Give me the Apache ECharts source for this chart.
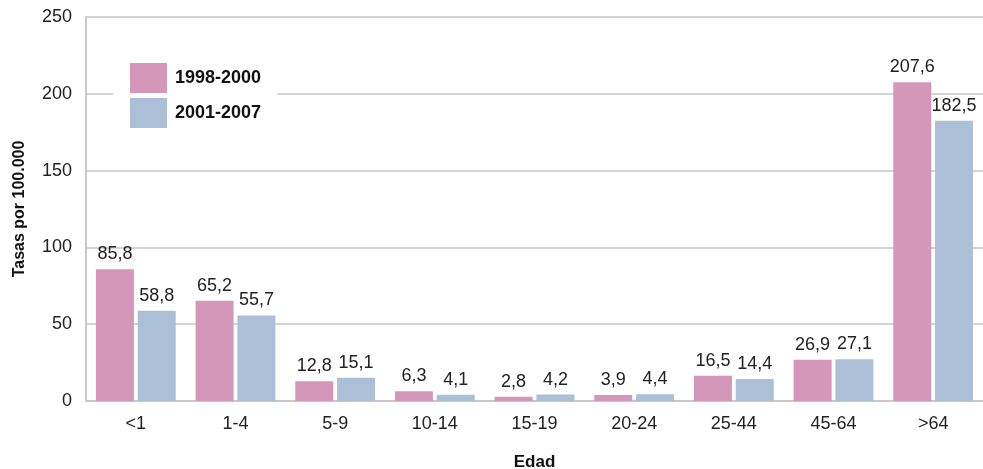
<!DOCTYPE html>
<html>
<head>
<meta charset="utf-8">
<title>Tasas por edad</title>
<script src="https://cdn.jsdelivr.net/npm/echarts@6/dist/echarts.min.js"></script>
<style>
  html, body { margin: 0; padding: 0; background: #fff; }
  #main { width: 983px; height: 469px; }
</style>
</head>
<body>
<div id="main"></div>
<script>
var ageGroups = ['<1', '1-4', '5-9', '10-14', '15-19', '20-24', '25-44', '45-64', '>64'];
var rates9800 = [85.8, 65.2, 12.8, 6.3, 2.8, 3.9, 16.5, 26.9, 207.6];
var rates0107 = [58.8, 55.7, 15.1, 4.1, 4.2, 4.4, 14.4, 27.1, 182.5];
var seriesNames = ['1998-2000', '2001-2007'];

var font = 'Liberation Sans, Arial, Helvetica, sans-serif';
var chart = echarts.init(document.getElementById('main'));

// etiqueta con coma decimal
function fmt(p) {
  return p.value.toFixed(1).replace('.', ',');
}

chart.setOption({
  animation: false,
  textStyle: { fontFamily: font },
  grid: { left: 86, right: 0, top: 17, bottom: 68, outerBoundsMode: 'none', containLabel: false },
  legend: {
    orient: 'vertical',
    left: 113, top: 56,
    padding: [7, 16, 7, 17],
    backgroundColor: '#fff',
    itemWidth: 37, itemHeight: 30, itemGap: 5,
    icon: 'rect',
    textStyle: { fontSize: 18, fontWeight: 'bold', color: '#111', fontFamily: font, padding: [0, 0, 0, 3] },
    data: seriesNames
  },
  xAxis: {
    type: 'category',
    data: ageGroups,
    name: 'Edad',
    nameLocation: 'middle',
    nameGap: 53,
    nameTextStyle: { fontSize: 17, fontWeight: 'bold', color: '#111' },
    axisLine: { lineStyle: { color: '#c8c8c8', width: 2 } },
    axisTick: { show: false },
    axisLabel: { fontSize: 18, color: '#222', margin: 14 }
  },
  yAxis: {
    type: 'value',
    min: 0, max: 250, interval: 50,
    name: 'Tasas por 100.000',
    nameLocation: 'middle',
    nameGap: 58,
    nameTextStyle: { fontSize: 16, fontWeight: 'bold', color: '#111' },
    axisLine: { show: true, lineStyle: { color: '#c8c8c8', width: 2 } },
    axisTick: { show: false },
    axisLabel: { fontSize: 18, color: '#222', margin: 14 },
    splitLine: { lineStyle: { color: '#d4d4d4', width: 2 } }
  },
  series: [
    {
      name: seriesNames[0],
      type: 'bar',
      data: rates9800,
      barWidth: 38,
      barGap: '10%',
      itemStyle: { color: '#d497b9' },
      label: { show: true, position: 'top', distance: 6, fontSize: 18, color: '#222', formatter: fmt }
    },
    {
      name: seriesNames[1],
      type: 'bar',
      data: rates0107,
      barWidth: 38,
      barGap: '10%',
      itemStyle: { color: '#abbfd7' },
      label: { show: true, position: 'top', distance: 6, fontSize: 18, color: '#222', formatter: fmt }
    }
  ]
});
</script>
</body>
</html>
